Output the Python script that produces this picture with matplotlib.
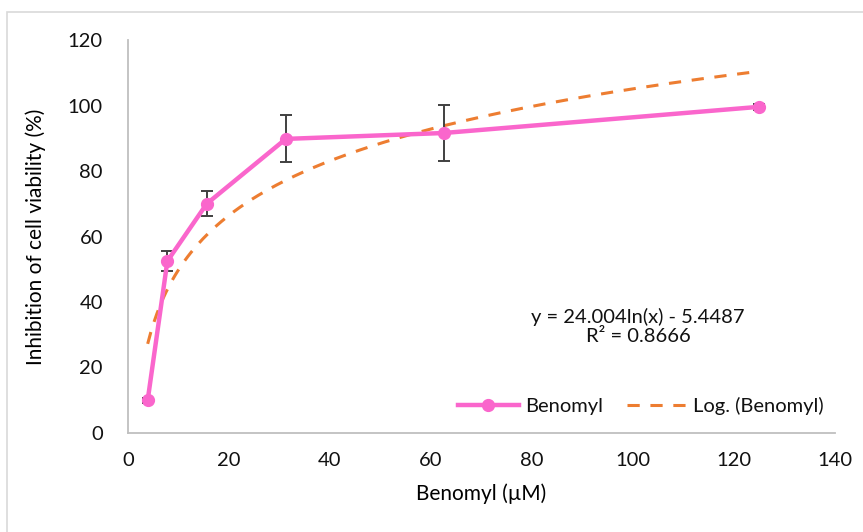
import numpy as np
import matplotlib.pyplot as plt
from matplotlib.patches import Rectangle

plt.rcParams['font.family'] = ['Lato', 'DejaVu Sans']
plt.rcParams['text.color'] = '#111111'

# data
conc = [3.9, 7.8, 15.6, 31.25, 62.5, 125]
inhibition = [10.0, 52.5, 70.0, 89.8, 91.6, 99.6]
err = [0.8, 3.0, 3.8, 7.2, 8.6, 1.0]

# log trendline shown on the chart: y = a ln(x) + b
fit_a = 24.004
fit_b = -5.4487
fit_r2 = 0.8666

fig = plt.figure(figsize=(8.63, 5.32), dpi=100)
fig.patches.append(Rectangle((0.008, -0.01), 1.2, 0.988, transform=fig.transFigure,
                             fill=False, edgecolor='#d9d9d9', linewidth=1.2))
ax = fig.add_axes([0.1483, 0.1861, 0.8193, 0.7387])

xs = np.linspace(conc[0], conc[-1], 200)
ax.plot(xs, fit_a * np.log(xs) + fit_b, linestyle=(0, (4, 3.5)), color='#ED7D31',
        linewidth=2.2, label='Log. (Benomyl)', zorder=2)
ax.errorbar(conc, inhibition, yerr=err, fmt='none', ecolor='#404040', elinewidth=1.4,
            capsize=4, capthick=1.4, zorder=3)
ax.plot(conc, inhibition, color='#FA66CC', linewidth=3.2, marker='o', markersize=8.5,
        label='Benomyl', zorder=4)

ax.set_xlim(0, 140)
ax.set_ylim(0, 120)
ax.set_xticks(range(0, 141, 20))
ax.set_yticks(range(0, 121, 20))
ax.tick_params(length=0, labelsize=14.5, labelcolor='#111111')
ax.tick_params(axis='y', pad=18)
ax.tick_params(axis='x', pad=14)
for s in ['top', 'right']:
    ax.spines[s].set_visible(False)
for s in ['left', 'bottom']:
    ax.spines[s].set_color('#bfbfbf')
    ax.spines[s].set_linewidth(1.3)

ax.set_xlabel('Benomyl (µM)', fontsize=15, labelpad=10)
ax.set_ylabel('Inhibition of cell viability (%)', fontsize=15, labelpad=16)

ax.text(101, 32.5, 'y = 24.004ln(x) - 5.4487\nR² = %.4f' % fit_r2, ha='center', va='center',
        fontsize=14.5, linespacing=1.2)

h, l = ax.get_legend_handles_labels()
ax.legend(h[::-1], l[::-1], loc='lower right', bbox_to_anchor=(1.01, 0.0), ncol=2,
          frameon=False, fontsize=14.5, handlelength=3.0, columnspacing=1.2, handletextpad=0.3)

fig.savefig('out.png', dpi=100)
